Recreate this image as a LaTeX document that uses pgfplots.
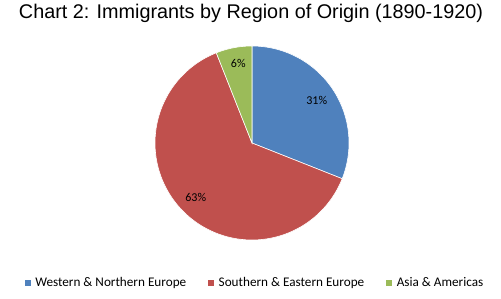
\documentclass[border=0pt]{standalone}
\usepackage{fontspec}
\setmainfont{Liberation Sans}
\newfontfamily\calfont{Carlito}
\usepackage{pgfplots}
\pgfplotsset{compat=1.18}
\definecolor{wnblue}{HTML}{4F81BD}
\definecolor{sered}{HTML}{C0504D}
\definecolor{aagreen}{HTML}{9BBB59}
% shares in percent
\def\ValA{31}\def\ValB{63}\def\ValC{6}
\begin{document}
\begin{tikzpicture}
\pgfmathsetmacro{\aS}{90}
\pgfmathsetmacro{\aE}{90-3.6*\ValA}
\pgfmathsetmacro{\bE}{\aE-3.6*\ValB}
\pgfmathsetmacro{\cE}{\bE-3.6*\ValC}
\begin{axis}[
  width=501bp, height=299bp, scale only axis,
  xmin=0, xmax=501, ymin=0, ymax=299,
  axis line style={draw=none}, xtick=\empty, ytick=\empty,
  clip=false,
  legend columns=3,
  legend cell align=left,
  legend style={at={(axis cs:255,16)}, anchor=center, draw=none, fill=none,
    font=\calfont\fontsize{13.2bp}{15bp}\selectfont,
    /tikz/every odd column/.append style={column sep=2.5bp},
    /tikz/every even column/.append style={column sep=20bp}},
  legend image code/.code={\fill[#1,draw=none] (0bp,-3bp) rectangle (6bp,3bp);},
]
\addplot[fill=wnblue, draw=white, line width=0.6pt, domain=\aS:\aE, samples=80]
  ({252+97*cos(x)},{156+97*sin(x)}) -- (axis cs:252,156) -- cycle;
\addlegendentry{Western \& Northern Europe}
\addplot[fill=sered, draw=white, line width=0.6pt, domain=\aE:\bE, samples=120]
  ({252+97*cos(x)},{156+97*sin(x)}) -- (axis cs:252,156) -- cycle;
\addlegendentry{Southern \& Eastern Europe}
\addplot[fill=aagreen, draw=white, line width=0.6pt, domain=\bE:\cE, samples=30]
  ({252+97*cos(x)},{156+97*sin(x)}) -- (axis cs:252,156) -- cycle;
\addlegendentry{Asia \& Americas}
\node[font=\calfont\fontsize{12bp}{13bp}\selectfont] at (axis cs:316.7,198.3) {\ValA\%};
\node[font=\calfont\fontsize{12bp}{13bp}\selectfont] at (axis cs:195.7,101.3) {\ValB\%};
\node[font=\calfont\fontsize{12bp}{13bp}\selectfont] at (axis cs:238.3,235.7) {\ValC\%};
\node[font=\fontsize{19.8bp}{22bp}\selectfont, anchor=base] at (axis cs:251,280) {Chart 2: Immigrants by Region of Origin (1890-1920)};
\end{axis}
\end{tikzpicture}
\end{document}
